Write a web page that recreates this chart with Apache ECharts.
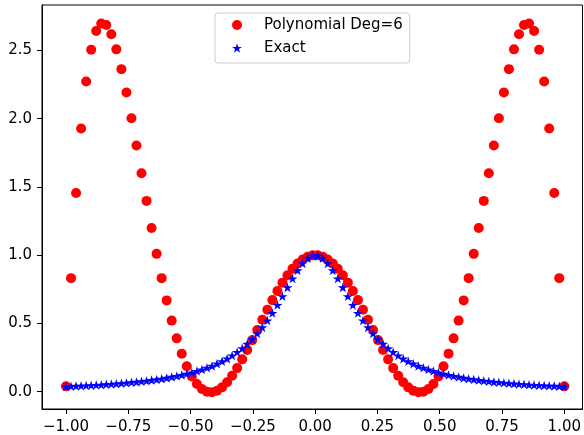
<!DOCTYPE html>
<html>
<head>
<meta charset="utf-8">
<script src="https://cdn.jsdelivr.net/npm/echarts@6/dist/echarts.min.js"></script>
<style>
html,body{margin:0;padding:0;background:#fff;}
#chart{width:584px;height:435px;}
</style>
</head>
<body>
<div id="chart"></div>
<script>
var xs = [-1.0, -0.9798, -0.9596, -0.9394, -0.9192, -0.8990, -0.8788, -0.8586, -0.8384, -0.8182, -0.7980, -0.7778, -0.7576, -0.7374, -0.7172, -0.6970, -0.6768, -0.6566, -0.6364, -0.6162, -0.5960, -0.5758, -0.5556, -0.5354, -0.5152, -0.4949, -0.4747, -0.4545, -0.4343, -0.4141, -0.3939, -0.3737, -0.3535, -0.3333, -0.3131, -0.2929, -0.2727, -0.2525, -0.2323, -0.2121, -0.1919, -0.1717, -0.1515, -0.1313, -0.1111, -0.0909, -0.0707, -0.0505, -0.0303, -0.0101,
  0.0101, 0.0303, 0.0505, 0.0707, 0.0909, 0.1111, 0.1313, 0.1515, 0.1717, 0.1919, 0.2121, 0.2323, 0.2525, 0.2727, 0.2929, 0.3131, 0.3333, 0.3535, 0.3737, 0.3939, 0.4141, 0.4343, 0.4545, 0.4747, 0.4949, 0.5152, 0.5354, 0.5556, 0.5758, 0.5960, 0.6162, 0.6364, 0.6566, 0.6768, 0.6970, 0.7172, 0.7374, 0.7576, 0.7778, 0.7980, 0.8182, 0.8384, 0.8586, 0.8788, 0.8990, 0.9192, 0.9394, 0.9596, 0.9798, 1.0];

var polyVals = [0.040, 0.832, 1.456, 1.928, 2.273, 2.505, 2.642, 2.697, 2.686, 2.619, 2.508, 2.363, 2.192, 2.003, 1.804, 1.601, 1.398, 1.199, 1.010, 0.832, 0.669, 0.521, 0.391, 0.279, 0.186, 0.112, 0.057, 0.020, -0.000, -0.004, 0.007, 0.032, 0.069, 0.117, 0.173, 0.237, 0.305, 0.378, 0.452, 0.527, 0.600, 0.671, 0.738, 0.799, 0.853, 0.900, 0.939, 0.969, 0.989, 0.999,
  0.999, 0.989, 0.969, 0.939, 0.900, 0.853, 0.799, 0.738, 0.671, 0.600, 0.527, 0.452, 0.378, 0.305, 0.237, 0.173, 0.117, 0.069, 0.032, 0.007, -0.004, -0.000, 0.020, 0.057, 0.112, 0.186, 0.279, 0.391, 0.521, 0.669, 0.832, 1.010, 1.199, 1.398, 1.601, 1.804, 2.003, 2.192, 2.363, 2.508, 2.619, 2.686, 2.697, 2.642, 2.505, 2.273, 1.928, 1.456, 0.832, 0.040];

var exactVals = [0.038, 0.040, 0.042, 0.043, 0.045, 0.047, 0.049, 0.051, 0.054, 0.056, 0.059, 0.062, 0.065, 0.069, 0.072, 0.076, 0.080, 0.085, 0.090, 0.095, 0.101, 0.108, 0.115, 0.122, 0.131, 0.140, 0.151, 0.162, 0.175, 0.189, 0.205, 0.223, 0.242, 0.265, 0.290, 0.318, 0.350, 0.385, 0.426, 0.471, 0.521, 0.576, 0.635, 0.699, 0.764, 0.829, 0.889, 0.940, 0.978, 0.997,
  0.997, 0.978, 0.940, 0.889, 0.829, 0.764, 0.699, 0.635, 0.576, 0.521, 0.471, 0.426, 0.385, 0.350, 0.318, 0.290, 0.265, 0.242, 0.223, 0.205, 0.189, 0.175, 0.162, 0.151, 0.140, 0.131, 0.122, 0.115, 0.108, 0.101, 0.095, 0.090, 0.085, 0.080, 0.076, 0.072, 0.069, 0.065, 0.062, 0.059, 0.056, 0.054, 0.051, 0.049, 0.047, 0.045, 0.043, 0.042, 0.040, 0.038];

var xTicks = [-1.0, -0.75, -0.5, -0.25, 0.0, 0.25, 0.5, 0.75, 1.0];
var yTicks = [0.0, 0.5, 1.0, 1.5, 2.0, 2.5];

var seriesNames = ['Polynomial Deg=6', 'Exact'];

var starPath = 'path://M0,-1 L0.2245,-0.309 L0.9511,-0.309 L0.3633,0.118 L0.5878,0.809 L0,0.382 L-0.5878,0.809 L-0.3633,0.118 L-0.9511,-0.309 L-0.2245,-0.309 Z';

var polyData = xs.map(function (x, i) { return [x, polyVals[i]]; });
var exactData = xs.map(function (x, i) { return [x, exactVals[i]]; });

var font = 'DejaVu Sans';
var chart = echarts.init(document.getElementById('chart'), null, {renderer: 'canvas'});
chart.setOption({
  animation: false,
  backgroundColor: '#ffffff',
  grid: {
    left: 42, right: 1.5, top: 5, bottom: 25.7,
    show: true, borderColor: '#000', borderWidth: 1, backgroundColor: 'transparent'
  },
  xAxis: {
    type: 'value',
    min: -1.0964, max: 1.073,
    axisLine: {show: true, onZero: false, lineStyle: {color: '#000', width: 1}},
    axisTick: {show: true, customValues: xTicks, length: 5, lineStyle: {color: '#000', width: 1}},
    axisLabel: {
      customValues: xTicks, margin: 11, color: '#000', fontSize: 15, fontFamily: font,
      formatter: function (v) { return v.toFixed(2).replace('-', '\u2212'); }
    },
    splitLine: {show: false}
  },
  yAxis: {
    type: 'value',
    min: -0.1266, max: 2.833,
    axisLine: {show: true, onZero: false, lineStyle: {color: '#000', width: 1}},
    axisTick: {show: true, customValues: yTicks, length: 5, lineStyle: {color: '#000', width: 1}},
    axisLabel: {
      customValues: yTicks, margin: 10, color: '#000', fontSize: 15, fontFamily: font,
      formatter: function (v) { return v.toFixed(1).replace('-', '\u2212'); }
    },
    splitLine: {show: false}
  },
  legend: {
    orient: 'vertical',
    left: 215, top: 13,
    padding: [4, 7, 7, 17],
    itemGap: 7,
    itemWidth: 10, itemHeight: 10,
    backgroundColor: 'rgba(255,255,255,0.8)',
    borderColor: '#cccccc', borderWidth: 1, borderRadius: 3,
    formatter: function (name) { return '{g|\u00a0}{t|' + name + '}'; },
    textStyle: {
      fontSize: 15, fontFamily: font, color: '#000', lineHeight: 16,
      rich: {
        g: {width: 17, fontSize: 15, lineHeight: 16},
        t: {fontSize: 15, fontFamily: font, color: '#000', lineHeight: 16}
      }
    },
    data: [
      {name: seriesNames[0], icon: 'circle'},
      {name: seriesNames[1], icon: starPath}
    ]
  },
  series: [
    {
      name: seriesNames[0], type: 'scatter', data: polyData,
      symbol: 'circle', symbolSize: 10,
      itemStyle: {color: '#ff0000', opacity: 1}
    },
    {
      name: seriesNames[1], type: 'scatter', data: exactData,
      symbol: starPath, symbolSize: 10, symbolKeepAspect: true,
      itemStyle: {color: '#0000ff', opacity: 1}
    }
  ]
});
</script>
</body>
</html>
